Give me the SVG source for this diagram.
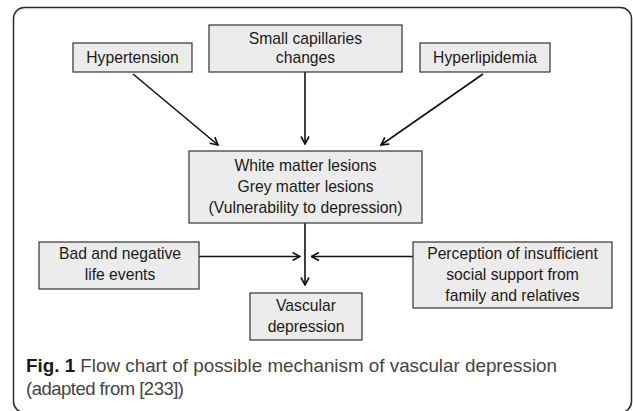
<svg xmlns="http://www.w3.org/2000/svg" width="633" height="411" viewBox="0 0 633 411">
<defs>
<style>
.frame{fill:#fff;stroke:#2b2b2b;stroke-width:1.5}
.box rect{fill:#ececec;stroke:#333;stroke-width:1.2}
.box text{font-family:"Liberation Sans",Arial,sans-serif;font-size:15.7px;fill:#1a1a1a;text-anchor:middle}
.conn path{fill:none;stroke:#111;stroke-width:1.6}
.cap{font-family:"Liberation Sans",Arial,sans-serif;font-size:18.5px;fill:#444}
.cap .b{font-weight:bold;fill:#1a1a1a}
</style>
<marker id="ah" viewBox="0 0 10 10" refX="9" refY="5" markerWidth="10" markerHeight="10" markerUnits="userSpaceOnUse" orient="auto">
<path d="M1.5,1 L9,5 L1.5,9" fill="none" stroke="#111" stroke-width="1.6"/>
</marker>
</defs>
<rect class="frame" x="13.5" y="7.5" width="618" height="405" rx="11"/>
<g class="conn">
<path d="M133,74 L218,145" marker-end="url(#ah)"/>
<path d="M305,72 L305,144" marker-end="url(#ah)"/>
<path d="M483,74 L381,145" marker-end="url(#ah)"/>
<path d="M305,223 L305,285" marker-end="url(#ah)"/>
<path d="M199,256.5 L300,256.5" marker-end="url(#ah)"/>
<path d="M413,256.5 L311.5,256.5" marker-end="url(#ah)"/>
</g>
<g id="hypertension" class="box">
<rect x="73" y="43" width="119" height="29"/>
<text x="132.5" y="63">Hypertension</text>
</g>
<g id="capillaries" class="box">
<rect x="209" y="25" width="193" height="47"/>
<text x="305.5" y="44">Small capillaries</text>
<text x="305.5" y="63">changes</text>
</g>
<g id="hyperlipidemia" class="box">
<rect x="420" y="43" width="130" height="29"/>
<text x="485" y="63">Hyperlipidemia</text>
</g>
<g id="lesions" class="box">
<rect x="189" y="151" width="233" height="72"/>
<text x="305.5" y="171">White matter lesions</text>
<text x="305.5" y="192">Grey matter lesions</text>
<text x="305.5" y="213">(Vulnerability to depression)</text>
</g>
<g id="life-events" class="box">
<rect x="39" y="242" width="160" height="47"/>
<text x="120" y="259">Bad and negative</text>
<text x="120" y="280">life events</text>
</g>
<g id="vascular" class="box">
<rect x="250" y="293" width="112" height="47"/>
<text x="306" y="310.5">Vascular</text>
<text x="306" y="331.5">depression</text>
</g>
<g id="social-support" class="box">
<rect x="413" y="242" width="199" height="66"/>
<text x="512.5" y="259">Perception of insufficient</text>
<text x="512.5" y="280">social support from</text>
<text x="512.5" y="300.5">family and relatives</text>
</g>
<text class="cap" x="26" y="372" textLength="531" lengthAdjust="spacingAndGlyphs"><tspan class="b">Fig. 1</tspan> Flow chart of possible mechanism of vascular depression</text>
<text class="cap" x="26" y="395" textLength="158" lengthAdjust="spacing">(adapted from [233])</text>
</svg>
